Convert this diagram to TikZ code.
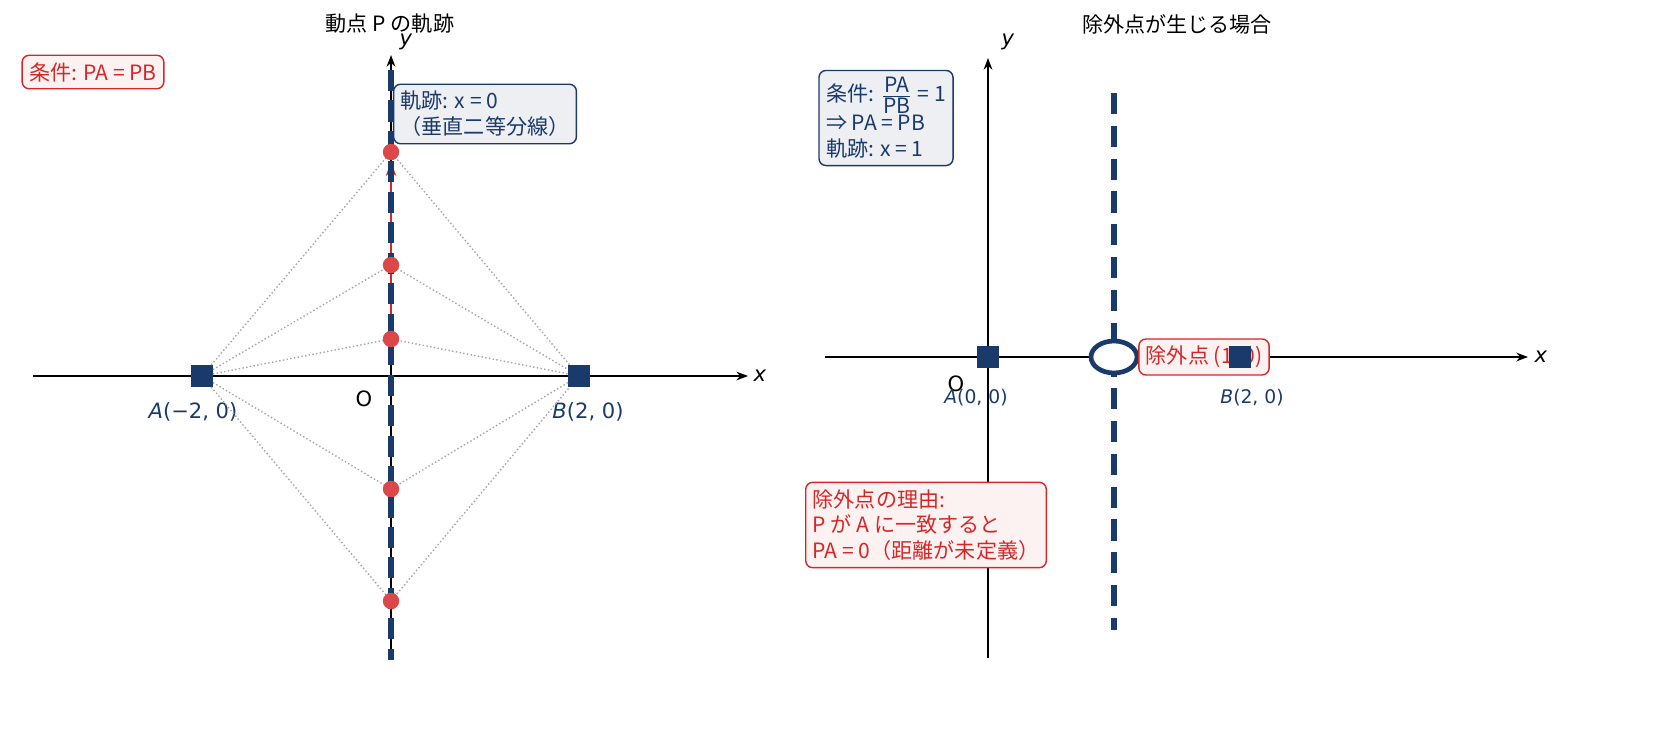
\documentclass[tikz,border=0pt]{standalone}
\usepackage{fontspec}
\setmainfont{DejaVu Sans}
\newfontfamily\jp{Noto Sans CJK JP}
\usetikzlibrary{arrows.meta,positioning}
\definecolor{navy}{HTML}{1A3A6B}
\definecolor{redc}{HTML}{D62728}
\newcommand{\vi}[1]{\textit{#1}}
\tikzset{
  axis/.style={semithick,-{Stealth[length=5pt]}},
  redbox/.style={draw=redc,fill=redc!6,rounded corners=3pt,text=redc,semithick,font=\jp\small,align=left,inner sep=3pt},
  bluebox/.style={draw=navy,fill=navy!8,rounded corners=3pt,text=navy,semithick,font=\jp\small,align=left,inner sep=3pt},
  ptsq/.style={fill=navy,minimum size=9pt,inner sep=0pt},
  locpt/.style={circle,fill=redc!85,minimum size=7pt,inner sep=0pt},
  guide/.style={gray!70,densely dotted,semithick}
}
\begin{document}
\begin{tikzpicture}[x=0.015cm,y=-0.015cm]
    \useasboundingbox (0,0) rectangle (1659,730);

    % Left panel: locus PA = PB
    \node[font=\jp\small] (ltitle) at (390,24) {動点 \vi{P} の軌跡};
    \draw[axis] (33,376) -- (748,376);
    \draw[axis] (391,660) -- (391,55);
    \node[font=\small] (lx) at (760,376) {\vi{x}};
    \node[font=\small] (ly) at (406,42) {\vi{y}};
    \node[font=\small] (lo) at (364,399) {O};
    \node[ptsq] (A) at (202,376) {};
    \node[ptsq] (B) at (579,376) {};
    \node[text=navy,font=\small] (Alab) at (193,412) {\vi{A}(−2, 0)};
    \node[text=navy,font=\small] (Blab) at (588,412) {\vi{B}(2, 0)};
    \foreach \n/\yy in {p1/339,p2/265,p3/152,p4/489,p5/601}{
        \coordinate (\n) at (391,\yy);
        \draw[guide] (A) -- (\n) -- (B);
    }
    \draw[redc,thick,-{Stealth[length=6pt]}] (p1) -- (391,162);
    \draw[navy,line width=2.2pt,dash pattern=on 9pt off 4pt] (391,70) -- (391,660);
    \foreach \n in {p1,p2,p3,p4,p5}{
        \node[locpt] at (\n) {};
    }
    \node[redbox] (cond) at (93,72) {条件: \vi{PA} = \vi{PB}};
    \node[bluebox] (locus) at (485,114) {軌跡: \vi{x} = 0\\（垂直二等分線）};

    % Right panel: excluded point
    \node[font=\jp\small] (rtitle) at (1177,24) {除外点が生じる場合};
    \draw[axis] (825,357) -- (1528,357);
    \draw[axis] (988,658) -- (988,58);
    \node[font=\small] (rx) at (1541,357) {\vi{x}};
    \node[font=\small] (ry) at (1008,42) {\vi{y}};
    \node[font=\small] (ro) at (956,384) {O};
    \node[ptsq] (A2) at (988,357) {};
    \node[text=navy,font=\footnotesize] (A2lab) at (976,398) {\vi{A}(0, 0)};
    \node[text=navy,font=\footnotesize] (B2lab) at (1252,398) {\vi{B}(2, 0)};
    \draw[navy,line width=2.2pt,dash pattern=on 9pt off 5pt] (1114,93) -- (1114,630);
    \draw[navy,line width=2pt,fill=white] (1114,357) ellipse (23 and 16);
    \node[redbox] (excl) at (1204,357) {除外点 (1, 0)};
    \node[ptsq] (B2) at (1240,357) {};
    \node[bluebox] (cond2) at (886,118) {条件: $\frac{\vi{PA}}{\vi{PB}}$ = 1\\⇒ \vi{PA} = \vi{PB}\\軌跡: \vi{x} = 1};
    \node[redbox] (reason) at (926,525) {除外点の理由:\\\vi{P} が \vi{A} に一致すると\\\vi{PA} = 0（距離が未定義）};
\end{tikzpicture}
\end{document}
